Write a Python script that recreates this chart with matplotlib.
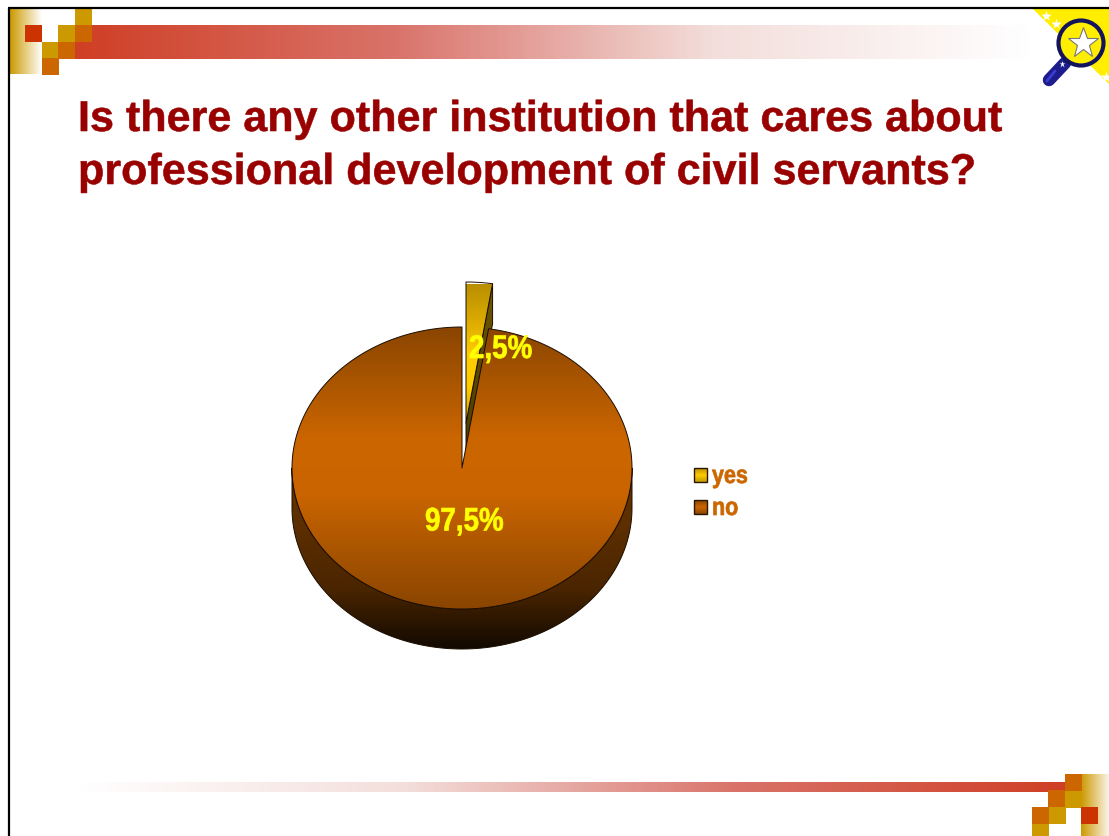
import numpy as np
import matplotlib
matplotlib.use('Agg')
import matplotlib.pyplot as plt
import matplotlib.patheffects as pe
from matplotlib.colors import LinearSegmentedColormap
from matplotlib.patches import Polygon, Rectangle, Circle
from matplotlib.transforms import Affine2D

title_lines = ['Is there any other institution that cares about',
               'professional development of civil servants?']
categories = ['yes', 'no']
values = [2.5, 97.5]

RED = '#cc3300'
ORANGE = '#cc6600'
GOLD = '#cc9900'

plt.rcParams['font.family'] = ['Liberation Sans', 'DejaVu Sans']

fig = plt.figure(figsize=(11.09, 8.37), dpi=100)
ax = fig.add_axes([0, 0, 1, 1])


class Narrow(pe.AbstractPathEffect):
    # squeezes glyphs sideways and thickens them, there is no narrow bold face installed
    def __init__(self, factor, weight=0.5):
        super().__init__()
        self.factor = factor
        self.weight = weight

    def draw_path(self, renderer, gc, tpath, affine, rgbFace=None):
        gc0 = renderer.new_gc()
        gc0.copy_properties(gc)
        gc0.set_foreground(rgbFace)
        gc0.set_linewidth(self.weight)
        renderer.draw_path(gc0, tpath, Affine2D().scale(self.factor, 1) + affine, rgbFace)
        gc0.restore()


def gradient(x0, x1, y0, y1, colors, clip=None, horizontal=False, zorder=2):
    # paints a linear colour ramp, optionally clipped to a patch
    cmap = LinearSegmentedColormap.from_list('ramp', colors)
    ramp = np.linspace(0, 1, 256)
    ramp = ramp[None, :] if horizontal else ramp[:, None]
    im = ax.imshow(ramp, cmap=cmap, extent=[x0, x1, y1, y0], origin='upper',
                   aspect='auto', interpolation='bilinear', zorder=zorder)
    if clip is not None:
        im.set_clip_path(clip)
    return im


def shaded_poly(points, y0, y1, colors, edge='#1a0d00', zorder=3, lw=0.7):
    poly = Polygon(points, closed=True, facecolor='none', edgecolor=edge,
                   linewidth=lw, zorder=zorder + 0.1, joinstyle='round')
    ax.add_patch(poly)
    xs = points[:, 0]
    gradient(xs.min() - 1, xs.max() + 1, y0, y1, colors, clip=poly, zorder=zorder)


# slide decoration, top
gradient(10, 42, 9, 74, [GOLD, '#ffffff'], horizontal=True, zorder=1)
gradient(75, 1035, 25, 59, ['#cf3f25', '#d9736a', '#f3dedb', '#ffffff'], horizontal=True, zorder=1)
top_squares = [(75, 9, GOLD), (25, 25, RED), (58, 25, GOLD), (75, 25, ORANGE),
               (42, 42, GOLD), (58, 42, ORANGE), (42, 58, ORANGE)]
for sx, sy, col in top_squares:
    ax.add_patch(Rectangle((sx, sy), 17, 17, facecolor=col, edgecolor='none', zorder=2))

# slide decoration, bottom
gradient(75, 1065, 782, 792, ['#ffffff', '#f3dedb', '#d9736a', '#cf3f25'], horizontal=True, zorder=1)
gradient(1081, 1109, 775, 837, [GOLD, '#fbf5ea'], horizontal=True, zorder=1)
bottom_squares = [(1065, 774, ORANGE), (1048, 790, ORANGE), (1065, 791, GOLD),
                  (1032, 807, ORANGE), (1049, 807, GOLD), (1081, 807, RED), (1032, 824, GOLD)]
for sx, sy, col in bottom_squares:
    ax.add_patch(Rectangle((sx, sy), 17, 17, facecolor=col, edgecolor='none', zorder=2))

# frame lines along the top and left of the slide
ax.plot([9, 9], [8, 837], color='black', lw=1.6, zorder=5, solid_capstyle='butt')
ax.plot([8, 1109], [8, 8], color='black', lw=1.6, zorder=5, solid_capstyle='butt')

# magnifier badge in the corner
ax.add_patch(Polygon([(1033, 9), (1109, 9), (1109, 84)], closed=True,
                     facecolor='#ffee00', edgecolor='none', zorder=2))
ax.plot([1065, 1049], [63, 80], color='#1c1c8c', lw=9, solid_capstyle='round', zorder=3)
ax.plot([1055, 1047], [71, 81], color='#3b3bd0', lw=2, solid_capstyle='round', zorder=3.1)
ax.add_patch(Circle((1081, 43), 22.5, facecolor='#ffee00', edgecolor='#14145c', linewidth=3, zorder=3.2))
ax.plot([1083], [43], marker='*', markersize=23, markerfacecolor='white',
        markeredgecolor='#777777', markeredgewidth=0.8, zorder=4)
for sx, sy, ms in [(1046, 16, 8), (1056, 24, 8), (1106, 77, 9), (1062, 64, 5)]:
    ax.plot([sx], [sy], marker='*', markersize=ms, markerfacecolor='white',
            markeredgecolor='none', zorder=4)

# title
for line, base in zip(title_lines, [131, 184]):
    ax.text(78, base, line, fontsize=31.03, fontweight='bold', color='#990000',
            ha='left', va='baseline', zorder=6, path_effects=[Narrow(1.0, 0.4)])

# pie geometry
cx, cy = 462, 468
rx, ry = 170, 141
depth = 40
shift_x, shift_y = 4, -45


def arc(t0, t1, ox=cx, oy=cy, n=200):
    t = np.radians(np.linspace(t0, t1, n))
    return np.column_stack([ox + rx * np.sin(t), oy - ry * np.cos(t)])


sweep = 360 * values[0] / sum(values)

# exploded slice, thickness first
sx, sy = cx + shift_x, cy + shift_y
rim = arc(0, sweep, sx, sy, 20)
side = np.vstack([[[sx, sy]], rim[-1:], rim[-1:] + [0, depth], [[sx, sy + depth]]])
shaded_poly(side, 284, 470, ['#6e5600', '#4a3800'], zorder=3)
top_face = np.vstack([[[sx, sy]], rim])
shaded_poly(top_face, 284, 423, ['#b98f00', '#d9a900', '#ffcc00', '#ffcc00', '#c9a000'], zorder=3.2)

# main slice: wall then top face
lower = arc(90, 270)
wall = np.vstack([lower, (lower + [0, depth])[::-1]])
shaded_poly(wall, 468, 649, ['#663300', '#5c2e00', '#4a2500', '#120900'], zorder=4)
main_face = np.vstack([[[cx, cy]], arc(sweep, 360, n=400)])
shaded_poly(main_face, 327, 609, ['#8a4500', '#ab5600', '#cc6600', '#c96400', '#a85400', '#8a4500'], zorder=4.2)

# value labels
labels = [f'{v:.1f}%'.replace('.', ',') for v in values]
for text, lx, ly in zip(labels, [469, 425], [358, 530.5]):
    ax.text(lx, ly, text, fontsize=23.5, fontweight='bold', color='#ffff00',
            ha='left', va='baseline', zorder=7, path_effects=[Narrow(0.85)])

# legend
for name, colors, ly in zip(categories, [['#b98f00', '#ffcc00', '#c09a00'], ['#8a4500', '#cc6600', '#8a4500']], [475, 507]):
    swatch = Polygon([(694, ly - 7), (707, ly - 7), (707, ly + 7), (694, ly + 7)], closed=True,
                     facecolor='none', edgecolor='#2a1500', linewidth=1.0, zorder=6.1)
    ax.add_patch(swatch)
    gradient(694, 707, ly - 7, ly + 7, colors, clip=swatch, zorder=6)
    ax.text(712, ly + 8, name, fontsize=18, fontweight='bold', color=ORANGE,
            ha='left', va='baseline', zorder=7, path_effects=[Narrow(0.86)])

ax.set_xlim(0, 1109)
ax.set_ylim(836, -1)
ax.axis('off')
fig.savefig('out.png', dpi=100, facecolor='white')
